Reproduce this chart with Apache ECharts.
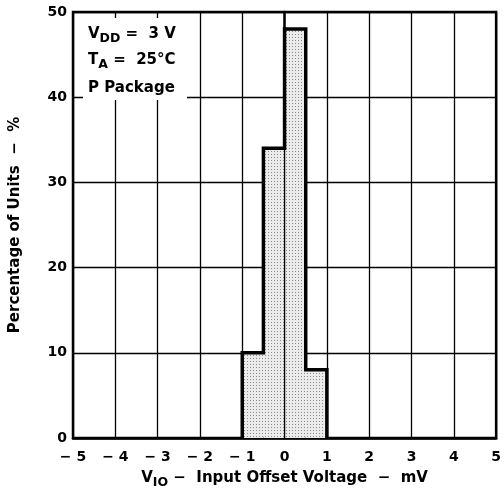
<!DOCTYPE html>
<html><head><meta charset="utf-8">
<script src="https://cdn.jsdelivr.net/npm/echarts@6/dist/echarts.min.js"></script>
<style>html,body{margin:0;padding:0;background:#fff}#c{width:504px;height:498px}</style>
</head><body><div id="c"></div>
<script>
// ---- data ----
const binStart = [-1, -0.5, 0, 0.5];
const binEnd = [-0.5, 0, 0.5, 1];
const percentUnits = [10, 34, 48, 8];
const xTickValues = [-5, -4, -3, -2, -1, 0, 1, 2, 3, 4, 5];
const yTickValues = [0, 10, 20, 30, 40, 50];
const noteLines = ['V_DD = 3 V', 'T_A = 25°C', 'P Package'];

const FONT = 'DejaVu Sans, Liberation Sans, sans-serif';

// stipple pattern
const pc = document.createElement('canvas');
pc.width = 3; pc.height = 3;
const pctx = pc.getContext('2d');
pctx.fillStyle = '#ebebeb'; pctx.fillRect(0, 0, 3, 3);
pctx.fillStyle = '#8a8a8a'; pctx.fillRect(1, 1, 1, 1);

const histData = binStart.map((s, i) => [s, binEnd[i], percentUnits[i]]);
const outline = [[binStart[0], 0]];
binStart.forEach((s, i) => { outline.push([s, percentUnits[i]], [binEnd[i], percentUnits[i]]); });
outline.push([binEnd[binEnd.length - 1], 0]);

const mainTxt = {fontFamily: FONT, fontWeight: 'bold', fontSize: 15, fill: '#000', color: '#000', lineHeight: 20, verticalAlign: 'top'};
const subTxt = {fontFamily: FONT, fontWeight: 'bold', fontSize: 12.5, fill: '#000', color: '#000', lineHeight: 14, padding: [5, 0, 0, 0], verticalAlign: 'top'};

const chart = echarts.init(document.getElementById('c'), null, {renderer: 'canvas'});
const option = {
  animation: false,
  backgroundColor: '#fff',
  grid: {left: 73, right: 3, top: 12, bottom: 60, show: true, borderColor: '#000', borderWidth: 2.5, containLabel: false},
  xAxis: {
    type: 'value', min: -5, max: 5, interval: 1,
    axisLine: {show: true, onZero: false, lineStyle: {color: '#000', width: 2.5}},
    axisTick: {show: false},
    splitLine: {show: true, lineStyle: {color: '#000', width: 1.3}},
    axisLabel: {
      color: '#000', fontFamily: FONT, fontWeight: 'bold', fontSize: 14, margin: 12,
      formatter: v => xTickValues.includes(v) ? (v < 0 ? '\u2212 ' + Math.abs(v) : String(v)) : ''
    },
    name: '{b|V}{s|IO}{b| \u2212  Input Offset Voltage  \u2212  mV}',
    nameLocation: 'middle', nameGap: 33,
    nameTextStyle: {rich: {b: mainTxt, s: subTxt}}
  },
  yAxis: {
    type: 'value', min: 0, max: 50, interval: 10,
    axisLine: {show: true, lineStyle: {color: '#000', width: 2.5}},
    axisTick: {show: false},
    splitLine: {show: true, lineStyle: {color: '#000', width: 1.3}},
    axisLabel: {color: '#000', fontFamily: FONT, fontWeight: 'bold', fontSize: 14, margin: 6,
      formatter: v => yTickValues.includes(v) ? String(v) : ''},
    name: 'Percentage of Units  \u2212  %',
    nameLocation: 'middle', nameGap: 50,
    nameTextStyle: {color: '#000', fontFamily: FONT, fontWeight: 'bold', fontSize: 15}
  },
  graphic: [
    {type: 'rect', left: 83, top: 18, shape: {width: 104, height: 82}, style: {fill: '#fff'}, z: 100},
    {type: 'text', left: 88, top: 27, z: 101, style: {
      text: '{b|V}{s|DD}{b| =  3 V}', rich: {b: mainTxt, s: subTxt}}},
    {type: 'text', left: 88, top: 53, z: 101, style: {
      text: '{b|T}{s|A}{b| =  25°C}', rich: {b: mainTxt, s: subTxt}}},
    {type: 'text', left: 88, top: 81, z: 101, style: {
      text: noteLines[2], fontFamily: FONT, fontWeight: 'bold', fontSize: 15, fill: '#000'}}
  ],
  series: [
    {
      type: 'custom', z: 3,
      data: histData,
      encode: {x: [0, 1], y: 2},
      renderItem: (params, api) => {
        const s = api.value(0), e = api.value(1), h = api.value(2);
        const p0 = api.coord([s, 0]);
        const p1 = api.coord([e, h]);
        const children = [{
          type: 'rect',
          shape: {x: p0[0], y: p1[1], width: p1[0] - p0[0], height: p0[1] - p1[1]},
          style: {fill: {image: pc, repeat: 'repeat'}}
        }];
        const i = params.dataIndex;
        if (s === 0 && i > 0) {
          const top = api.coord([s, Math.min(h, percentUnits[i - 1])]);
          children.push({type: 'line', shape: {x1: p0[0], y1: p0[1], x2: p0[0], y2: top[1]},
            style: {stroke: '#000', lineWidth: 1.3}});
        }
        return {type: 'group', children};
      }
    },
    {
      type: 'line', z: 4, data: outline, showSymbol: false, symbol: 'none',
      lineStyle: {color: '#000', width: 3.5, join: 'miter'}
    }
  ]
};
chart.setOption(option);
</script>
</body></html>
